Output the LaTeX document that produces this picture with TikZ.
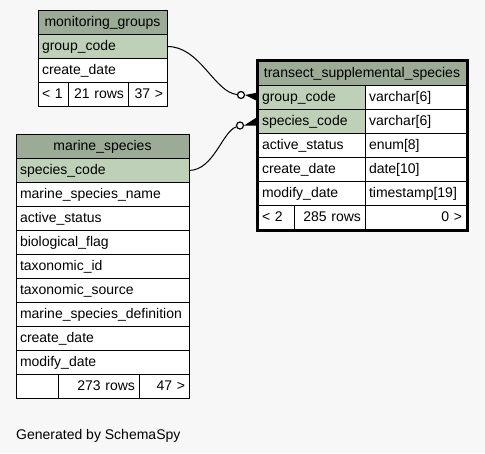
\documentclass[tikz,border=0pt]{standalone}
\usepackage{fontspec}
\setmainfont{Liberation Sans}
\usepackage{tikz}
\usetikzlibrary{positioning,fit}
\definecolor{pagebg}{HTML}{F7F7F7}
\definecolor{hdrgreen}{HTML}{9BAB96}
\definecolor{keygreen}{HTML}{BED1B8}

\begin{document}
\begin{tikzpicture}[
  x=1pt, y=-1pt,
  font=\fontsize{14}{17}\selectfont,
  cell/.style={draw, line width=1pt, fill=white, anchor=north west, minimum height=24pt, outer sep=0pt,
    inner xsep=4pt, inner ysep=0pt, text height=10.5pt, text depth=3pt, text width=#1, align=left},
  keycell/.style={cell=#1, fill=keygreen},
  hdr/.style={cell=#1, fill=hdrgreen, align=center},
  rcell/.style={cell=#1, align=right},
  dot/.style={circle, draw, fill=white, line width=1.2pt, minimum size=7pt, inner sep=0pt},
  edge/.style={line width=1pt}
]
\fill[pagebg] (0,0) rectangle (485,453);

\node[hdr=121pt] (mgh) at (38,10.5) {monitoring\_groups};
\node[keycell=121pt, below=0pt of mgh] (mgcode) {group\_code};
\node[cell=121pt, below=0pt of mgcode] (mgdate) {create\_date};
\node[cell=22pt] (mgf1) at (mgdate.south west) {< 1};
\node[rcell=52pt, right=0pt of mgf1] (mgf2) {21 rows};
\node[rcell=31pt, right=0pt of mgf2] (mgf3) {37 >};

\node[hdr=165pt] (msh) at (16,134.5) {marine\_species};
\node[keycell=165pt, below=0pt of msh] (mscode) {species\_code};
\node[cell=165pt, below=0pt of mscode] (msname) {marine\_species\_name};
\node[cell=165pt, below=0pt of msname] (msact) {active\_status};
\node[cell=165pt, below=0pt of msact] (msbio) {biological\_flag};
\node[cell=165pt, below=0pt of msbio] (mstaxid) {taxonomic\_id};
\node[cell=165pt, below=0pt of mstaxid] (mstaxsrc) {taxonomic\_source};
\node[cell=165pt, below=0pt of mstaxsrc] (msdef) {marine\_species\_definition};
\node[cell=165pt, below=0pt of msdef] (mscreate) {create\_date};
\node[cell=165pt, below=0pt of mscreate] (msmod) {modify\_date};
\node[cell=34pt] (msf1) at (msmod.south west) {};
\node[rcell=73pt, right=0pt of msf1] (msf2) {273 rows};
\node[rcell=42pt, right=0pt of msf2] (msf3) {47 >};

\node[hdr=200pt] (tsh) at (258,61.5) {transect\_supplemental\_species};
\node[keycell=99pt] (tsgroup) at (tsh.south west) {group\_code};
\node[cell=93pt, right=0pt of tsgroup] (tsgrouptype) {varchar[6]};
\node[keycell=99pt, below=0pt of tsgroup] (tscode) {species\_code};
\node[cell=93pt, right=0pt of tscode] (tscodetype) {varchar[6]};
\node[cell=99pt, below=0pt of tscode] (tsact) {active\_status};
\node[cell=93pt, right=0pt of tsact] (tsacttype) {enum[8]};
\node[cell=99pt, below=0pt of tsact] (tscreate) {create\_date};
\node[cell=93pt, right=0pt of tscreate] (tscreatetype) {date[10]};
\node[cell=99pt, below=0pt of tscreate] (tsmod) {modify\_date};
\node[cell=93pt, right=0pt of tsmod] (tsmodtype) {timestamp[19]};
\node[cell=28pt] (tsf1) at (tsmod.south west) {< 2};
\node[rcell=63pt, right=0pt of tsf1] (tsf2) {285 rows};
\node[rcell=93pt, right=0pt of tsf2] (tsf3) {0 >};
\node[draw, line width=3pt, inner sep=1pt, fit=(tsh) (tsf3)] (tsbox) {};

\node[dot] (gdot) at (241,95) {};
\node[dot] (sdot) at (240,125.5) {};
\draw[edge] (mgcode.east) .. controls (200,46) and (214,92) .. (gdot);
\draw[edge] (mscode.east) .. controls (214,170) and (222,132) .. (sdot);
\fill (gdot.east) -- ([yshift=5pt]tsgroup.west) -- ([yshift=-4pt]tsgroup.west) -- cycle;
\fill (sdot.east) -- ([yshift=5pt]tscode.west) -- ([yshift=-4pt]tscode.west) -- cycle;

\node[anchor=base west, inner sep=0pt] (credit) at (16,439) {Generated by SchemaSpy};
\end{tikzpicture}
\end{document}
